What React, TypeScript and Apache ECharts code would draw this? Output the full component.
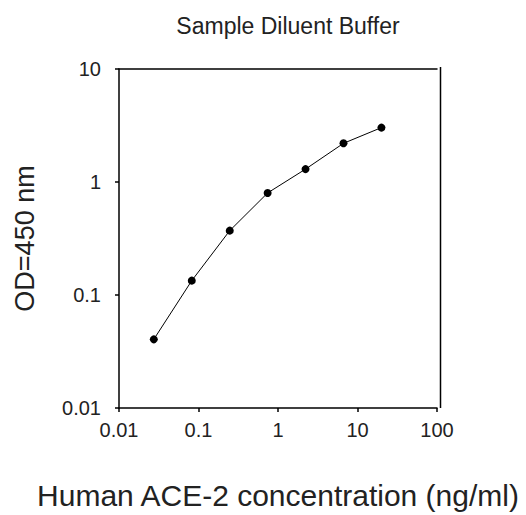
import React, { useEffect, useRef } from "react";
import * as echarts from "echarts";

const concentrations = [0.0274, 0.0823, 0.247, 0.741, 2.22, 6.67, 20];
const odValues = [0.0405, 0.134, 0.371, 0.8, 1.3, 2.2, 3.03];
const titleText = "Sample Diluent Buffer";
const xName = "Human ACE-2 concentration (ng/ml)";
const yName = "OD=450 nm";

const FONT = "'Liberation Sans', Arial, sans-serif";

export default function App() {
  const ref = useRef<HTMLDivElement>(null);
  useEffect(() => {
    if (!ref.current) return;
    const chart = echarts.init(ref.current, undefined, { renderer: "svg" });
    const axisLine = { show: true, lineStyle: { color: "#000", width: 1.5 } };
    const data = concentrations.map((x, i) => [x, odValues[i]]);
    chart.setOption({
      animation: false,
      backgroundColor: "#fff",
      title: {
        text: titleText,
        left: 283,
        top: 9,
        textAlign: "center",
        textStyle: { fontFamily: FONT, fontSize: 23, fontWeight: "normal", color: "#222" },
      },
      grid: { left: 119, right: 89, top: 69, bottom: 105, containLabel: false },
      xAxis: [
        {
          type: "log",
          logBase: 10,
          min: 0.01,
          max: 100,
          position: "bottom",
          axisLine,
          axisTick: { show: true, inside: false, length: 4, lineStyle: { color: "#000", width: 1.5 } },
          minorTick: { show: false },
          splitLine: { show: false },
          axisLabel: {
            margin: 12,
            fontFamily: FONT,
            fontSize: 20,
            color: "#222",
            formatter: (v: number) => String(Number(v.toPrecision(3))),
          },
          name: xName,
          nameLocation: "middle",
          nameGap: 72,
          nameTextStyle: { fontFamily: FONT, fontSize: 30, color: "#222" },
        },
        {
          type: "log",
          logBase: 10,
          min: 0.01,
          max: 100,
          position: "top",
          axisLine,
          axisTick: { show: false },
          axisLabel: { show: false },
          splitLine: { show: false },
        },
      ],
      yAxis: {
        type: "log",
        logBase: 10,
        min: 0.01,
        max: 10,
        axisLine,
        axisTick: { show: true, inside: false, length: 4, lineStyle: { color: "#000", width: 1.5 } },
        splitLine: { show: false },
        axisLabel: {
          margin: 18,
          fontFamily: FONT,
          fontSize: 20,
          color: "#222",
          formatter: (v: number) => String(Number(v.toPrecision(3))),
        },
        name: yName,
        nameLocation: "middle",
        nameGap: 81,
        nameTextStyle: { fontFamily: FONT, fontSize: 27, color: "#222" },
      },
      graphic: [
        {
          type: "line",
          shape: { x1: 440.5, y1: 67, x2: 440.5, y2: 408 },
          style: { stroke: "#000", lineWidth: 1.5 },
        },
      ],
      series: [
        {
          type: "line",
          data,
          xAxisIndex: 0,
          symbol: "circle",
          symbolSize: 8,
          showSymbol: true,
          itemStyle: { color: "#000" },
          lineStyle: { color: "#000", width: 1 },
        },
      ],
    });
    return () => chart.dispose();
  }, []);
  return <div ref={ref} style={{ width: 526, height: 515, position: "absolute", left: 0, top: 0 }} />;
}
